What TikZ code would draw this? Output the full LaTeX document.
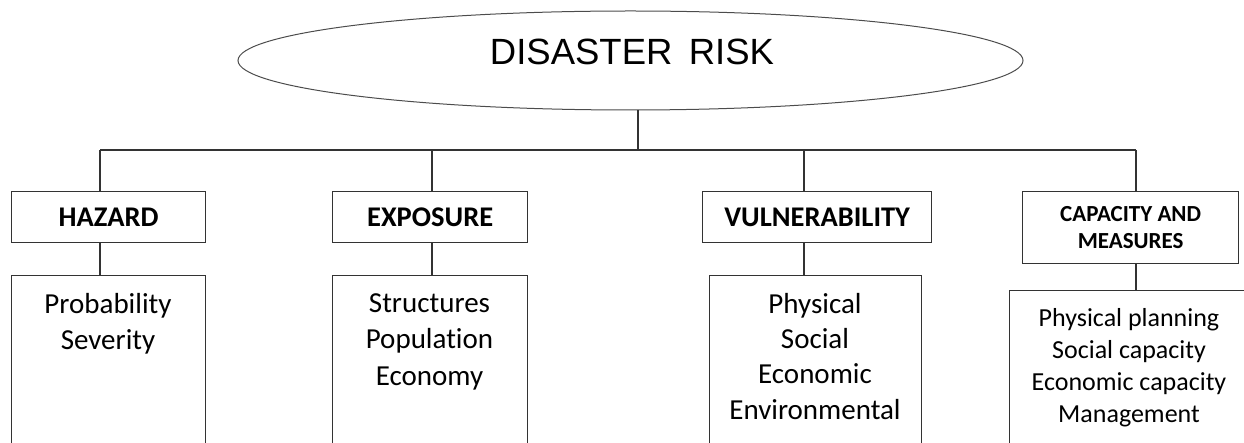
\documentclass[tikz,border=0pt]{standalone}
\usepackage{fontspec}
\setmainfont{Carlito}[Ligatures={NoCommon}]
\newfontfamily\arialf{Liberation Sans}
\usetikzlibrary{shapes.geometric}
\begin{document}
\begin{tikzpicture}[x=1pt,y=-1pt,
  conn/.style={draw=black!80,line width=1.3pt},
  hdrbox/.style={rectangle,draw=black!80,line width=1.3pt,inner sep=0pt,anchor=north west,
    font=\fontsize{28.5}{34}\selectfont\bfseries,align=center},
  contbox/.style={rectangle,draw=black!80,line width=1.3pt,inner sep=0pt,anchor=north west},
  conttxt/.style={inner sep=0pt,anchor=north,align=center,font=\fontsize{29}{36}\selectfont}
]
\useasboundingbox (0,0) rectangle (1244,443);
\clip (0,0) rectangle (1244,443);

% top ellipse
\node[ellipse,draw=black!70,line width=1pt,minimum width=785pt,minimum height=99pt,inner sep=0pt]
  (risk) at (630.5,60.5) {};
\node[inner sep=0pt,font=\arialf\fontsize{36.5}{40}\selectfont] (risktxt) at (632,51.5) {DISASTER\hspace{0.45em}RISK};

% header boxes
\node[hdrbox,minimum width=194pt,minimum height=51pt] (hz) at (11,191) {HAZARD};
\node[hdrbox,minimum width=195pt,minimum height=51pt] (ex) at (332,191) {EXPOSURE};
\node[hdrbox,minimum width=229pt,minimum height=51pt] (vu) at (702,191) {VULNERABILITY};
\node[hdrbox,minimum width=216pt,minimum height=72pt,font=\fontsize{23}{27}\selectfont\bfseries] (ca) at (1022,191) {CAPACITY AND\\MEASURES};

% content boxes
\node[contbox,minimum width=194pt,minimum height=200pt] (hzc) at (11,275) {};
\node[contbox,minimum width=195pt,minimum height=200pt] (exc) at (332,275) {};
\node[contbox,minimum width=212pt,minimum height=200pt] (vuc) at (709,275) {};
\node[contbox,minimum width=240pt,minimum height=200pt] (cac) at (1009,290) {};

% content texts
\node[conttxt,font=\fontsize{29}{36.5}\selectfont] (hzt) at (108,293) {Probability\\Severity};
\node[conttxt,font=\fontsize{29}{36.5}\selectfont] (ext) at (429.5,293) {Structures\\Population\\Economy};
\node[conttxt,font=\fontsize{29}{35.3}\selectfont] (vut) at (815,293) {Physical\\Social\\Economic\\Environmental};
\node[conttxt,font=\fontsize{26}{32}\selectfont] (cat) at (1129,308) {Physical planning\\Social capacity\\Economic capacity\\Management};

% connectors
\coordinate (bus) at (638,150);
\coordinate (s1) at (100,150);
\coordinate (s2) at (432,150);
\coordinate (s3) at (804,150);
\coordinate (s4) at (1136,150);
\draw[conn] (bus |- risk.south) -- (bus);
\draw[conn] (s1) -- (s4);
\draw[conn] (s1) -- (s1 |- hz.north);
\draw[conn] (s2) -- (s2 |- ex.north);
\draw[conn] (s3) -- (s3 |- vu.north);
\draw[conn] (s4) -- (s4 |- ca.north);
\draw[conn] (s1 |- hz.south) -- (s1 |- hzc.north);
\draw[conn] (s2 |- ex.south) -- (s2 |- exc.north);
\draw[conn] (s3 |- vu.south) -- (s3 |- vuc.north);
\draw[conn] (s4 |- ca.south) -- (s4 |- cac.north);
\end{tikzpicture}
\end{document}
